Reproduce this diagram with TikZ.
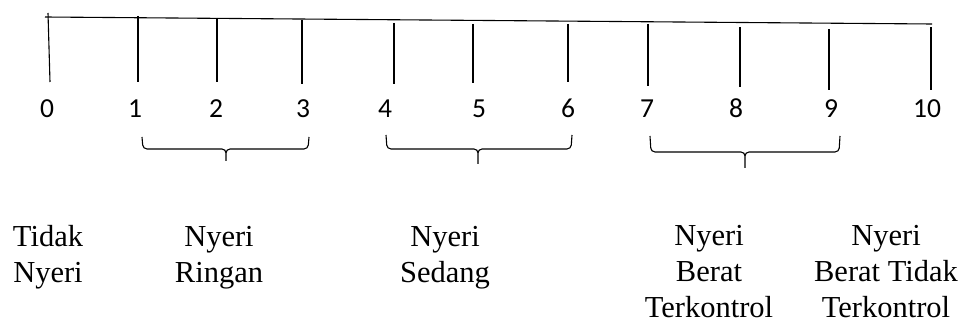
\documentclass[tikz,border=0pt]{standalone}
\usepackage{fontspec}
\setmainfont{Liberation Serif}
\newfontfamily\digitfont{Carlito}
\usetikzlibrary{positioning}

\begin{document}
\begin{tikzpicture}[x=1pt, y=-1pt,
TickStyle/.style={line width=1.1pt},
NumStyle/.style={font=\digitfont\fontsize{27.5}{33}\selectfont, anchor=base,
                inner sep=0pt},
LabelStyle/.style={font=\fontsize{30.5}{36}\selectfont, align=center,
                anchor=base, inner sep=0pt},
BraceStyle/.style={line width=1.1pt, rounded corners=4pt},]
\useasboundingbox (0,0) rectangle (969,323);
% garis skala
\coordinate (kiri) at (45,17);
\coordinate (kanan) at (932,24);
\draw [TickStyle] (kiri) -- (kanan);
% garis tegak
\draw [TickStyle] (48,13) -- (50,82);
\draw [TickStyle] (138,16) -- (138,82);
\draw [TickStyle] (217,18) -- (217,82);
\draw [TickStyle] (302,20) -- (302,84);
\draw [TickStyle] (394,23) -- (394,84);
\draw [TickStyle] (473,24) -- (473,83);
\draw [TickStyle] (568,24) -- (568,82);
\draw [TickStyle] (648,24) -- (648,86);
\draw [TickStyle] (740,27) -- (740,87);
\draw [TickStyle] (829,29) -- (829,90);
\draw [TickStyle] (931,27) -- (931,90);
% angka
\node [NumStyle] (n0) at (47,118) {0};
\node [NumStyle] (n1) at (135,118) {1};
\node [NumStyle] (n2) at (216,118) {2};
\node [NumStyle] (n3) at (303,118) {3};
\node [NumStyle] (n4) at (385,118) {4};
\node [NumStyle] (n5) at (479,118) {5};
\node [NumStyle] (n6) at (568,118) {6};
\node [NumStyle] (n7) at (647,118) {7};
\node [NumStyle] (n8) at (736,118) {8};
\node [NumStyle] (n9) at (831,118) {9};
\node [NumStyle] (n10) at (927,118) {10};
% kurung kurawal
\draw [BraceStyle] (142,137) -- (143,149) -- (226,149) -- (226,161)
                   (309,137) -- (308,149) -- (226,149) -- (226,161);
\draw [BraceStyle] (386,135) -- (387,149) -- (478,149) -- (478,164)
                   (572,135) -- (571,149) -- (478,149) -- (478,164);
\draw [BraceStyle] (650,136) -- (651,152) -- (745,152) -- (745,168)
                   (840,136) -- (839,152) -- (745,152) -- (745,168);
% keterangan (base = baris terakhir)
\node [LabelStyle] (tidak) at (48,282) {Tidak\\Nyeri};
\node [LabelStyle] (ringan) at (219,282) {Nyeri\\Ringan};
\node [LabelStyle] (sedang) at (445,282) {Nyeri\\Sedang};
\node [LabelStyle] (berat) at (709,317) {Nyeri\\Berat\\Terkontrol};
\node [LabelStyle] (sangat) at (886,317) {Nyeri\\Berat Tidak\\Terkontrol};
\end{tikzpicture}
\end{document}
